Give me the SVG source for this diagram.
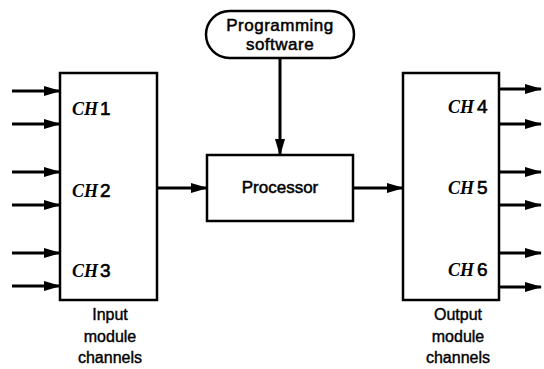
<svg xmlns="http://www.w3.org/2000/svg" width="544" height="369" viewBox="0 0 544 369">
<defs>
<marker id="ah" markerUnits="userSpaceOnUse" markerWidth="17" markerHeight="10" refX="16" refY="5" orient="auto" overflow="visible">
<path d="M0,0 L17,5 L0,10 z" fill="#000"/>
</marker>
<style>
.box{fill:#fff;stroke:#000;stroke-width:2.5}
.ln{stroke:#000;stroke-width:3;fill:none;marker-end:url(#ah)}
.t{font-family:"Liberation Sans",Arial,sans-serif;font-size:17px;fill:#000;stroke:#000;stroke-width:0.5}
.lb{font-family:"Liberation Sans",Arial,sans-serif;font-size:16px;fill:#000;stroke:#000;stroke-width:0.4;text-anchor:middle}
.ch{font-family:"Liberation Serif","Times New Roman",serif;font-style:italic;font-weight:bold;font-size:18px}
.n{font-family:"Liberation Sans",Arial,sans-serif;font-size:19px;stroke:#000;stroke-width:0.6}
</style>
</defs>
<rect width="544" height="369" fill="#fff"/>
<g id="connectors">
<line class="ln" x1="12" y1="91" x2="60" y2="91"/>
<line class="ln" x1="12" y1="124" x2="60" y2="124"/>
<line class="ln" x1="12" y1="172" x2="60" y2="172"/>
<line class="ln" x1="12" y1="205" x2="60" y2="205"/>
<line class="ln" x1="12" y1="253" x2="60" y2="253"/>
<line class="ln" x1="12" y1="286" x2="60" y2="286"/>
<line class="ln" x1="157" y1="188" x2="207" y2="188"/>
<line class="ln" x1="353" y1="188" x2="403" y2="188"/>
<line class="ln" x1="280" y1="58" x2="280" y2="155"/>
<line class="ln" x1="499" y1="89" x2="541" y2="89"/>
<line class="ln" x1="499" y1="124" x2="541" y2="124"/>
<line class="ln" x1="499" y1="172" x2="541" y2="172"/>
<line class="ln" x1="499" y1="205" x2="541" y2="205"/>
<line class="ln" x1="499" y1="253" x2="541" y2="253"/>
<line class="ln" x1="499" y1="287" x2="541" y2="287"/>
</g>
<g id="input">
<rect class="box" x="60" y="73" width="97" height="227"/>
<text x="72" y="115"><tspan class="ch">CH</tspan><tspan class="n" dx="2">1</tspan></text>
<text x="72" y="197"><tspan class="ch">CH</tspan><tspan class="n" dx="2">2</tspan></text>
<text x="72" y="277"><tspan class="ch">CH</tspan><tspan class="n" dx="2">3</tspan></text>
<text class="lb" x="110" y="320">Input</text>
<text class="lb" x="110" y="342">module</text>
<text class="lb" x="110" y="363">channels</text>
</g>
<g id="output">
<rect class="box" x="403" y="73" width="96" height="227"/>
<text x="448" y="113"><tspan class="ch">CH</tspan><tspan class="n" dx="3">4</tspan></text>
<text x="448" y="194"><tspan class="ch">CH</tspan><tspan class="n" dx="3">5</tspan></text>
<text x="448" y="276"><tspan class="ch">CH</tspan><tspan class="n" dx="3">6</tspan></text>
<text class="lb" x="458" y="320">Output</text>
<text class="lb" x="458" y="342">module</text>
<text class="lb" x="458" y="363">channels</text>
</g>
<g id="processor">
<rect class="box" x="207" y="155" width="146" height="66"/>
<text class="t" x="280" y="193" text-anchor="middle">Processor</text>
</g>
<g id="software">
<rect class="box" x="206" y="11" width="148" height="47" rx="23.5" ry="23.5"/>
<text class="t" x="280" y="31" text-anchor="middle" letter-spacing="0.5">Programming</text>
<text class="t" x="280" y="50" text-anchor="middle" letter-spacing="0.5">software</text>
</g>
</svg>
